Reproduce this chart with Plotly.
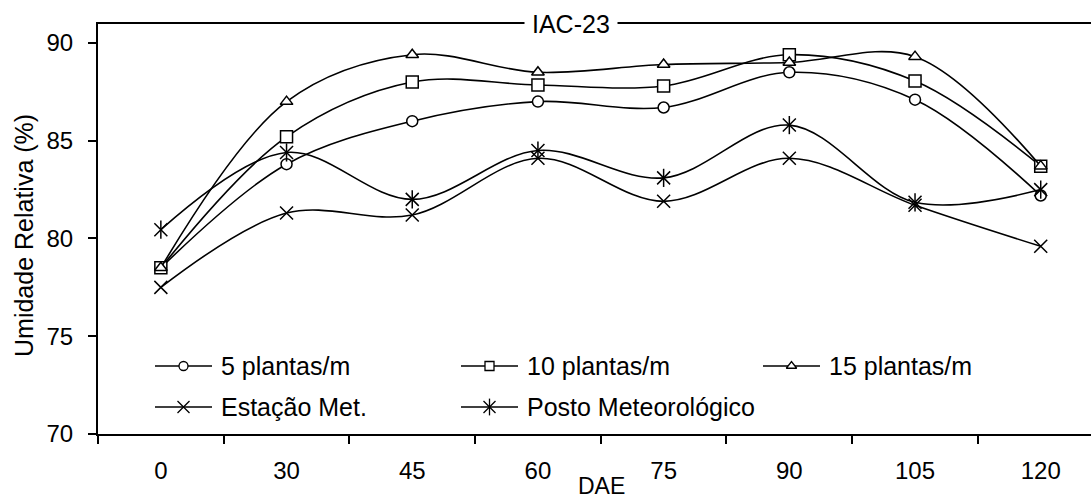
import plotly.graph_objects as go

# ---------------- data ----------------
categories = ['0', '30', '45', '60', '75', '90', '105', '120']
plantas5 = [78.5, 83.8, 86.0, 87.0, 86.7, 88.5, 87.1, 82.2]
plantas10 = [78.5, 85.2, 88.0, 87.85, 87.8, 89.4, 88.05, 83.7]
plantas15 = [78.5, 87.0, 89.4, 88.5, 88.9, 89.0, 89.3, 83.7]
estacao_met = [77.5, 81.3, 81.2, 84.1, 81.9, 84.1, 81.7, 79.6]
posto_met = [80.45, 84.4, 82.0, 84.5, 83.1, 85.8, 81.85, 82.5]
series_names = ['5 plantas/m', '10 plantas/m', '15 plantas/m',
                'Estação Met.', 'Posto Meteorológico']
y_ticks = [70, 75, 80, 85, 90]

# ---------------- layout constants ----------------
W, H = 1091, 500
ML, MR, MT, MB = 98, 0, 24, 66
PW = W - ML - MR
PH = H - MT - MB
Y_RANGE = [70, 90.97]
X_RANGE = [-0.5, 7.4]
FONT = 'Arial, "Liberation Sans", sans-serif'
TICK_FONT = 24
TEXT_FONT = 25


def px_x(px):
    return (px - ML) / PW


def px_y(py):
    return (H - MB - py) / PH


styles = [
    dict(symbol='circle', size=11, fill='white', lsize=9),
    dict(symbol='square', size=12, fill='white', lsize=9),
    dict(symbol='triangle-up', size=11, fill='white', lsize=9),
    dict(symbol='x-thin-open', size=13, fill='black', lsize=12),
    dict(symbol='x-thin-open', size=13, fill='black', lsize=12, extra='line-ns-open'),
]
values = [plantas5, plantas10, plantas15, estacao_met, posto_met]

fig = go.Figure()
for name, vals, st in zip(series_names, values, styles):
    fig.add_trace(go.Scatter(
        x=categories, y=vals, name=name, mode='lines+markers',
        line=dict(color='black', width=1.6, shape='spline', smoothing=1),
        marker=dict(symbol=st['symbol'], size=st['size'], color=st['fill'],
                    line=dict(color='black', width=1.5)),
        showlegend=False))
    if 'extra' in st:
        fig.add_trace(go.Scatter(
            x=categories, y=vals, mode='markers', hoverinfo='skip',
            marker=dict(symbol=st['extra'], size=st['size'], color='black',
                        line=dict(color='black', width=1.5)),
            showlegend=False))

# ---------------- custom legend (pixel layout) ----------------
LEG_COLS = [155, 461, 763]
LEG_ROWS = [366, 407]
LEG_LINE = 57
LEG_TEXT_GAP = 64
leg_pos = [(0, 0), (1, 0), (2, 0), (0, 1), (1, 1)]
for name, st, (c, r) in zip(series_names, styles, leg_pos):
    x0 = LEG_COLS[c]
    y0 = LEG_ROWS[r]
    fig.add_trace(go.Scatter(
        x=[x0, x0 + LEG_LINE], y=[y0, y0], xaxis='x2', yaxis='y2',
        mode='lines', line=dict(color='black', width=1.6),
        hoverinfo='skip', showlegend=False))
    syms = [st['symbol']] + ([st['extra']] if 'extra' in st else [])
    for sym in syms:
        fig.add_trace(go.Scatter(
            x=[x0 + LEG_LINE / 2], y=[y0], xaxis='x2', yaxis='y2',
            mode='markers', hoverinfo='skip', showlegend=False,
            marker=dict(symbol=sym, size=st['lsize'], color=st['fill'],
                        line=dict(color='black', width=1.3))))
    fig.add_annotation(text=name, xref='paper', yref='paper',
                       x=px_x(x0 + LEG_TEXT_GAP), y=px_y(y0),
                       xanchor='left', yanchor='middle', showarrow=False,
                       font=dict(family=FONT, size=TEXT_FONT, color='black'))

# titles
fig.add_annotation(text='IAC-23', xref='paper', yref='paper',
                   x=px_x(571), y=px_y(MT), xanchor='center', yanchor='middle',
                   showarrow=False, bgcolor='white', borderpad=7,
                   font=dict(family=FONT, size=TEXT_FONT, color='black'))
fig.add_annotation(text='DAE', xref='paper', yref='paper',
                   x=px_x(601), y=px_y(486), xanchor='center', yanchor='middle',
                   showarrow=False,
                   font=dict(family=FONT, size=TICK_FONT - 1, color='black'))
fig.add_annotation(text='Umidade Relativa (%)', xref='paper', yref='paper',
                   x=px_x(24), y=px_y(236), xanchor='center', yanchor='middle',
                   textangle=-90, showarrow=False,
                   font=dict(family=FONT, size=TEXT_FONT, color='black'))

fig.update_layout(
    width=W, height=H, autosize=False,
    margin=dict(l=ML, r=MR, t=MT, b=MB, pad=0),
    paper_bgcolor='white', plot_bgcolor='white',
    showlegend=False,
    font=dict(family=FONT, size=TICK_FONT, color='black'),
    xaxis=dict(type='category', categoryorder='array', categoryarray=categories,
               range=X_RANGE, tickson='boundaries', ticks='outside',
               ticklen=8, tickwidth=2, tickcolor='black', ticklabelstandoff=14,
               showline=True, linewidth=2, linecolor='black', mirror=True,
               showgrid=False, zeroline=False, automargin=False,
               tickfont=dict(family=FONT, size=TICK_FONT, color='black')),
    yaxis=dict(range=Y_RANGE, tickvals=y_ticks, ticks='outside',
               ticklen=8, tickwidth=2, tickcolor='black', ticklabelstandoff=10,
               showline=True, linewidth=2, linecolor='black',
               showgrid=False, zeroline=False, automargin=False,
               tickfont=dict(family=FONT, size=TICK_FONT, color='black')),
    xaxis2=dict(overlaying='x', range=[ML, W - MR], visible=False,
                fixedrange=True),
    yaxis2=dict(overlaying='y', range=[H - MB, MT], visible=False,
                fixedrange=True),
)

fig.write_html('out.html')
